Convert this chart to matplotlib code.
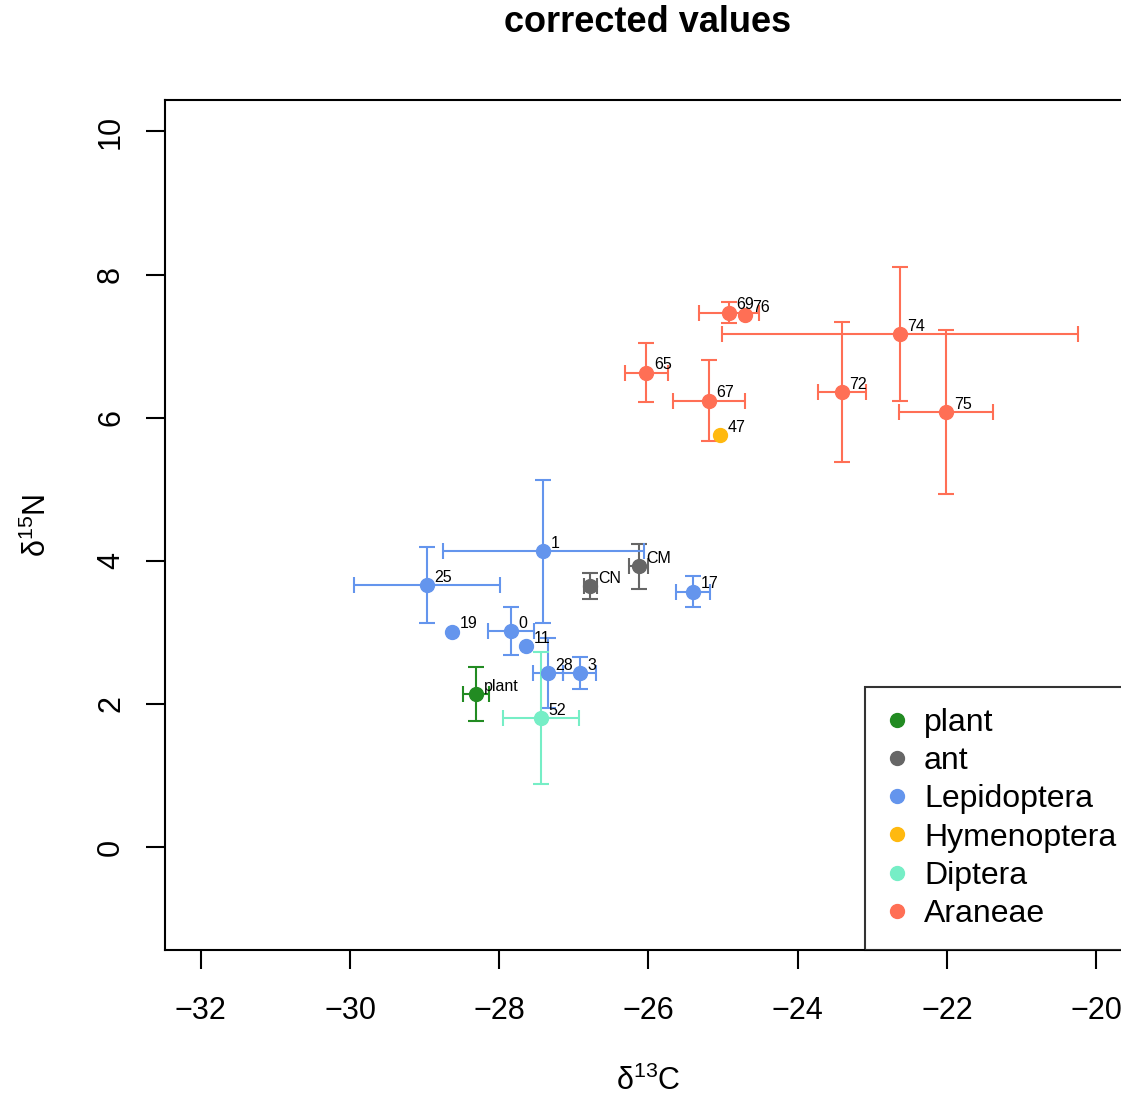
import numpy as np
import matplotlib
matplotlib.use("Agg")
import matplotlib.pyplot as plt

plt.rcParams['font.family'] = ['Liberation Sans', 'DejaVu Sans']
plt.rcParams['mathtext.fontset'] = 'custom'
plt.rcParams['mathtext.rm'] = 'Liberation Sans'
plt.rcParams['mathtext.it'] = 'Liberation Sans:italic'

nan = np.nan

labels = ["plant", "CN", "CM", "1", "25", "19", "0", "11", "28", "3", "17",
          "47", "52", "65", "67", "69", "76", "74", "72", "75"]
groups = ["plant", "ant", "ant", "Lepidoptera", "Lepidoptera", "Lepidoptera",
          "Lepidoptera", "Lepidoptera", "Lepidoptera", "Lepidoptera", "Lepidoptera",
          "Hymenoptera", "Diptera", "Araneae", "Araneae", "Araneae", "Araneae",
          "Araneae", "Araneae", "Araneae"]
d13C = [-28.31, -26.78, -26.13, -27.41, -28.97, -28.63, -27.84, -27.64, -27.35,
        -26.92, -25.40, -25.04, -27.44, -26.03, -25.19, -24.92, -24.71, -22.63,
        -23.41, -22.01]
d15N = [2.14, 3.65, 3.92, 4.13, 3.66, 3.01, 3.02, 2.81, 2.43, 2.43, 3.57,
        5.76, 1.80, 6.63, 6.24, 7.47, 7.43, 7.17, 6.36, 6.08]
sdC = [0.17, 0.09, 0.13, 1.35, 0.98, nan, 0.31, nan, 0.20, 0.22, 0.23,
       nan, 0.51, 0.29, 0.48, 0.40, nan, 2.39, 0.32, 0.63]
sdN = [0.38, 0.18, 0.31, 1.00, 0.53, nan, 0.33, nan, 0.49, 0.22, 0.22,
       nan, 0.92, 0.41, 0.56, 0.15, nan, 0.94, 0.98, 1.14]

group_names = ["plant", "ant", "Lepidoptera", "Hymenoptera", "Diptera", "Araneae"]
group_cols = ["#228B22", "#666666", "#6495ED", "#FFB90F", "#76EEC6", "#FF6F55"]
col_of = dict(zip(group_names, group_cols))

W, H = 1121, 1099
fig = plt.figure(figsize=(W / 100, H / 100), dpi=100)
ax = fig.add_axes([165 / W, (H - 950) / H, (1132 - 165) / W, 850 / H])

for i in range(len(labels)):
    c = col_of[groups[i]]
    xe = None if np.isnan(sdC[i]) else sdC[i]
    ye = None if np.isnan(sdN[i]) else sdN[i]
    ax.errorbar(d13C[i], d15N[i], xerr=xe, yerr=ye, fmt='o', color=c,
                ms=10, mec=c, elinewidth=1.5, capsize=5.5, capthick=1.5, zorder=2)
    ax.annotate(labels[i], (d13C[i], d15N[i]), xytext=(5.5, 5.5),
                textcoords='offset points', ha='left', va='center', fontsize=11.5)

ax.set_xlim(-32.48, -19.52)
ax.set_ylim(-1.44, 10.44)
ax.set_xticks([-32, -30, -28, -26, -24, -22, -20])
ax.set_yticks([0, 2, 4, 6, 8, 10])
ax.set_xticklabels(["\u221232", "\u221230", "\u221228", "\u221226", "\u221224", "\u221222", "\u221220"])
ax.tick_params(axis='both', direction='out', length=14, width=1.5, labelsize=22, pad=14)
ax.tick_params(axis='x', pad=19)
for lab in ax.get_yticklabels():
    lab.set_rotation(90)
    lab.set_va('center')
for s in ax.spines.values():
    s.set_linewidth(1.5)

ax.set_xlabel("\u03b4$^{\\mathregular{13}}$C", fontsize=22, labelpad=29)
ax.set_ylabel("\u03b4$^{\\mathregular{15}}$N", fontsize=22, labelpad=31)
fig.text(648 / W, 1 - 22 / H, "corrected values", ha='center', va='center',
         fontsize=26, fontweight='bold')

handles = [plt.Line2D([], [], ls='none', marker='o', color=c, ms=10) for c in group_cols]
leg = ax.legend(handles, group_names, loc='lower right',
                bbox_to_anchor=(1.0 + 5 / 967, 0.0),
                borderaxespad=0, fontsize=23, frameon=True, fancybox=False,
                edgecolor='black', handlelength=0.7, handletextpad=0.5,
                labelspacing=0.26, borderpad=0.65)
leg.get_frame().set_linewidth(1.5)

fig.savefig("out.png", dpi=100)
